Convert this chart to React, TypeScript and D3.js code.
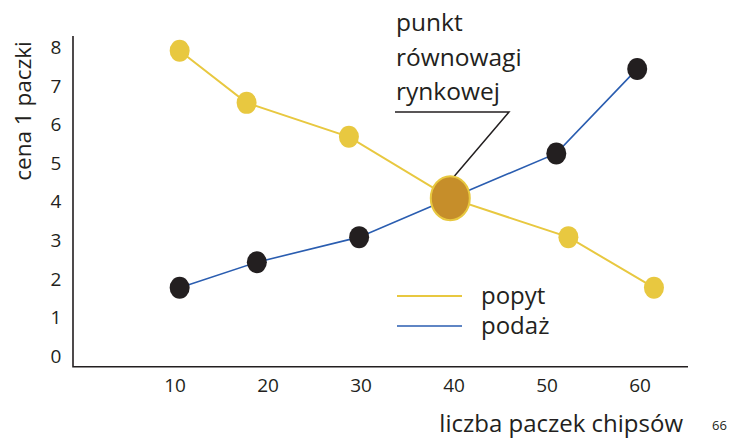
import React from 'react'
import * as d3 from 'd3'

const demandX = [10.5, 17.7, 28.7, 39.6, 52.3, 61.5]
const demandY = [7.91, 6.56, 5.68, 4.09, 3.08, 1.77]
const supplyX = [10.5, 18.8, 29.8, 39.6, 51.0, 59.7]
const supplyY = [1.77, 2.43, 3.08, 4.09, 5.25, 7.44]
const equilibrium = { x: 39.6, y: 4.09 }
const xTicks = [10, 20, 30, 40, 50, 60]
const yTicks = [0, 1, 2, 3, 4, 5, 6, 7, 8]

const YELLOW = '#e8c840'
const BLUE = '#2a5db0'
const DARK = '#231f20'
const ORANGE = '#c68e2a'
const FONT = '"Open Sans", "Noto Sans", sans-serif'

const App = () => {
  const x = d3.scaleLinear().domain([10, 60]).range([175, 640])
  const y = d3.scaleLinear().domain([0, 8]).range([356, 47.3])

  const line = d3
    .line<[number, number]>()
    .x(d => x(d[0]))
    .y(d => y(d[1]))

  const demand = demandX.map((v, i) => [v, demandY[i]] as [number, number])
  const supply = supplyX.map((v, i) => [v, supplyY[i]] as [number, number])

  const ex = x(equilibrium.x)
  const ey = y(equilibrium.y)

  return (
    <svg width={735} height={441} style={{ position: 'absolute', left: 0, top: 0 }} fontFamily={FONT}>
      <rect width={735} height={441} fill="#fff" />
      {/* axes */}
      <path d="M73,36V366.7H688" fill="none" stroke={DARK} strokeWidth={1.6} />
      {yTicks.map(t => (
        <text key={t} x={56} y={y(t)} dy="0.36em" textAnchor="middle" fontSize={19} fill={DARK}>
          {t}
        </text>
      ))}
      {xTicks.map(t => (
        <text key={t} x={x(t)} y={392} textAnchor="middle" fontSize={19} fill={DARK}>
          {t}
        </text>
      ))}
      <text transform="translate(31,111) rotate(-90)" textAnchor="middle" fontSize={22.5} fill={DARK}>
        cena 1 paczki
      </text>
      <text x={683} y={432} textAnchor="end" fontSize={24} fill={DARK}>
        liczba paczek chipsów
      </text>
      <text x={712} y={430} fontSize={13} fill={DARK}>66</text>

      {/* series */}
      <path d={line(demand) ?? ''} fill="none" stroke={YELLOW} strokeWidth={2} />
      <path d={line(supply) ?? ''} fill="none" stroke={BLUE} strokeWidth={1.6} />
      {demand.map((d, i) => (
        <ellipse key={'d' + i} cx={x(d[0])} cy={y(d[1])} rx={10} ry={11} fill={YELLOW} />
      ))}
      {supply.map((d, i) => (
        <ellipse key={'s' + i} cx={x(d[0])} cy={y(d[1])} rx={10} ry={11} fill={DARK} />
      ))}

      {/* annotation */}
      <path d={`M395,112H509L${ex + 4},${ey - 22}`} fill="none" stroke={DARK} strokeWidth={1.5} />
      <ellipse cx={ex} cy={ey} rx={19.5} ry={22} fill={ORANGE} stroke={YELLOW} strokeWidth={2} />
      <g fontSize={24.5} fill={DARK}>
        <text x={396} y={31}>punkt</text>
        <text x={396} y={66}>równowagi</text>
        <text x={396} y={100}>rynkowej</text>
      </g>

      {/* legend */}
      <line x1={397} x2={462} y1={296} y2={296} stroke={YELLOW} strokeWidth={2} />
      <line x1={397} x2={462} y1={326} y2={326} stroke={BLUE} strokeWidth={1.6} />
      <g fontSize={24} fill={DARK}>
        <text x={481} y={304}>popyt</text>
        <text x={481} y={334}>podaż</text>
      </g>
    </svg>
  )
}

export default App
